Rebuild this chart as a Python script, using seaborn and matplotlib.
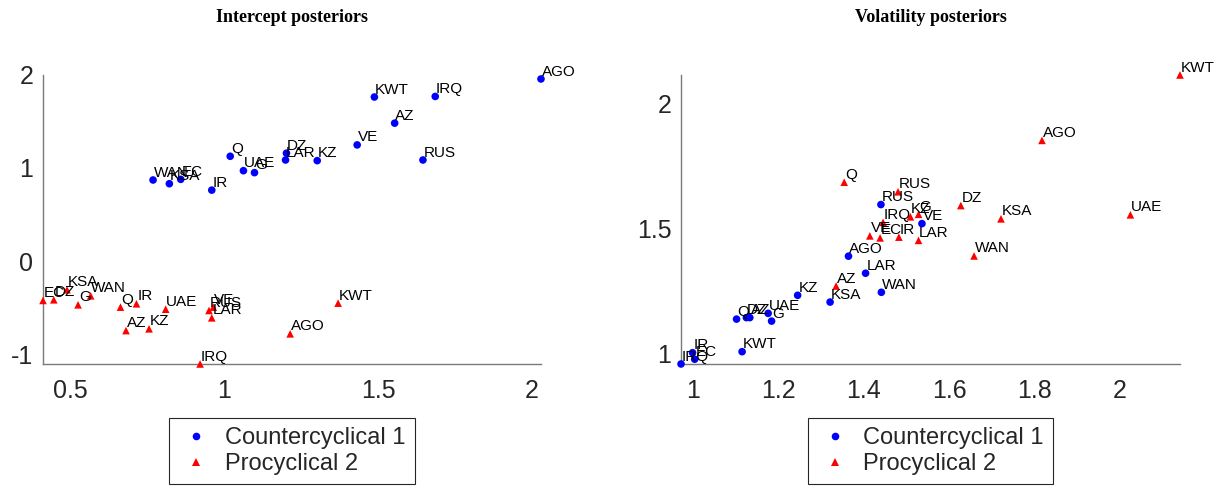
import matplotlib
matplotlib.use("Agg")
import matplotlib.pyplot as plt
from matplotlib import ticker
import pandas as pd
import seaborn as sns

# Country codes shared by both panels
countries = ["AGO", "AZ", "DZ", "EC", "G", "IR", "IRQ", "KSA",
             "KWT", "KZ", "LAR", "Q", "RUS", "UAE", "VE", "WAN"]

# Intercept posteriors: regime 1 (countercyclical)
intercept_counter_x = [2.030, 1.554, 1.202, 0.858, 1.098, 0.959, 1.686, 0.821,
                       1.488, 1.302, 1.199, 1.019, 1.646, 1.062, 1.432, 0.768]
intercept_counter_y = [1.957, 1.482, 1.159, 0.878, 0.950, 0.762, 1.769, 0.831,
                       1.763, 1.079, 1.086, 1.126, 1.086, 0.971, 1.248, 0.871]
# Intercept posteriors: regime 2 (procyclical)
intercept_pro_x = [1.214, 0.680, 0.445, 0.410, 0.524, 0.714, 0.921, 0.488,
                   1.370, 0.755, 0.959, 0.662, 0.950, 0.809, 0.964, 0.565]
intercept_pro_y = [-0.783, -0.748, -0.417, -0.424, -0.471, -0.460, -1.107, -0.309,
                   -0.453, -0.729, -0.611, -0.496, -0.532, -0.518, -0.496, -0.374]

# Volatility posteriors: regime 1 (countercyclical)
vol_counter_x = [1.364, 1.133, 1.125, 1.004, 1.184, 0.999, 0.972, 1.321,
                 1.115, 1.245, 1.404, 1.102, 1.440, 1.176, 1.536, 1.441]
vol_counter_y = [1.390, 1.145, 1.145, 0.979, 1.131, 1.005, 0.960, 1.207,
                 1.009, 1.234, 1.322, 1.139, 1.596, 1.162, 1.520, 1.246]
# Volatility posteriors: regime 2 (procyclical)
vol_pro_x = [1.817, 1.335, 1.627, 1.438, 1.528, 1.482, 1.445, 1.721,
             2.140, 1.509, 1.528, 1.354, 1.480, 2.024, 1.414, 1.658]
vol_pro_y = [1.852, 1.271, 1.592, 1.463, 1.557, 1.466, 1.525, 1.539,
             2.113, 1.547, 1.453, 1.685, 1.647, 1.555, 1.471, 1.391]

regimes = ["Countercyclical 1", "Procyclical 2"]
titles = ["Intercept posteriors", "Volatility posteriors"]
intercept_xticks = [0.5, 1, 1.5, 2]
intercept_yticks = [-1, 0, 1, 2]
vol_xticks = [1, 1.2, 1.4, 1.6, 1.8, 2]
vol_yticks = [1, 1.5, 2]

frames = []
for panel, (cx, cy, px, py) in zip(
        titles,
        [(intercept_counter_x, intercept_counter_y, intercept_pro_x, intercept_pro_y),
         (vol_counter_x, vol_counter_y, vol_pro_x, vol_pro_y)]):
    frames.append(pd.DataFrame({"panel": panel, "country": countries,
                                "regime": regimes[0], "x": cx, "y": cy}))
    frames.append(pd.DataFrame({"panel": panel, "country": countries,
                                "regime": regimes[1], "x": px, "y": py}))
df = pd.concat(frames, ignore_index=True)

sns.set_theme(style="white")
plt.rcParams["font.family"] = ["Liberation Sans", "DejaVu Sans"]
plt.rcParams["axes.unicode_minus"] = False

palette = {regimes[0]: "#0000ff", regimes[1]: "#ff0000"}
markers = {regimes[0]: "o", regimes[1]: "^"}

fig = plt.figure(figsize=(12.22, 4.91), dpi=100)
ax1 = fig.add_axes([0.0352, 0.2587, 0.4075, 0.5886])
ax2 = fig.add_axes([0.5573, 0.2587, 0.4083, 0.5886])

axis_grey = "#7a7a7a"
settings = [
    (ax1, titles[0], intercept_xticks, intercept_yticks),
    (ax2, titles[1], vol_xticks, vol_yticks),
]

for ax, title, xt, yt in settings:
    sub = df[df["panel"] == title]
    sns.scatterplot(data=sub, x="x", y="y", hue="regime", style="regime",
                    hue_order=regimes, style_order=regimes,
                    palette=palette, markers=markers, s=30, linewidth=0,
                    ax=ax, clip_on=False, zorder=3)
    for row in sub.itertuples():
        ax.annotate(row.country, (row.x, row.y), xytext=(0.5, 2.5),
                    textcoords="offset points", ha="left", va="baseline",
                    fontsize=11, color="black", zorder=4,
                    annotation_clip=False)

    # tight limits around the data
    ax.set_xlim(sub["x"].min(), sub["x"].max())
    ax.set_ylim(sub["y"].min(), sub["y"].max())
    ax.set_xticks(xt)
    ax.set_yticks(yt)
    ax.xaxis.set_major_formatter(ticker.FormatStrFormatter("%g"))
    ax.yaxis.set_major_formatter(ticker.FormatStrFormatter("%g"))
    ax.set_xlabel("")
    ax.set_ylabel("")

    for side in ["top", "right"]:
        ax.spines[side].set_visible(False)
    for side in ["left", "bottom"]:
        ax.spines[side].set_color(axis_grey)
        ax.spines[side].set_linewidth(1.0)
    ax.tick_params(axis="both", direction="in", length=4, width=0.9,
                   color=axis_grey, labelcolor="#262626", labelsize=18)
    ax.tick_params(axis="x", pad=11)
    ax.tick_params(axis="y", pad=7)

    ax.set_title(title, fontfamily="Liberation Serif", fontweight="bold",
                 fontsize=13, pad=38, color="black")

    handles, labels = ax.get_legend_handles_labels()
    leg = ax.legend(handles, labels, loc="upper center",
                    bbox_to_anchor=(0.5, -0.187), borderaxespad=0,
                    fontsize=17, frameon=True, fancybox=False, framealpha=1,
                    edgecolor="#262626", handlelength=1.5, handletextpad=0.45,
                    borderpad=0.4, labelspacing=0.15)
    leg.get_frame().set_linewidth(0.8)

# intercept panel extends up to the 2 tick
ax1.set_ylim(top=2.0)

fig.savefig("out.png", dpi=100)
